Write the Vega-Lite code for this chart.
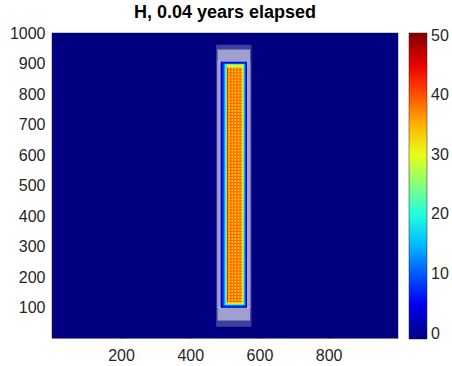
{
  "$schema": "https://vega.github.io/schema/vega-lite/v6.json",
  "width": 346,
  "height": 305,
  "autosize": {"type": "none"},
  "padding": {"left": 52, "top": 33, "right": 54, "bottom": 28},
  "background": "white",
  "title": {"text": "H, 0.04 years elapsed", "fontSize": 18, "font": "Liberation Sans", "fontWeight": "bold", "color": "#000000", "anchor": "middle", "offset": 3},
  "datasets": {
    "bg": [{"x0": 0.5, "x1": 1000.5, "y0": 0.5, "y1": 1000.5, "v": -0.9}],
    "haloSparse": [{"x0": 475, "x1": 577, "y0": 37, "y1": 962}],
    "haloDense": [
      {"x0": 479, "x1": 573, "y0": 905, "y1": 946},
      {"x0": 479, "x1": 573, "y0": 58, "y1": 102},
      {"x0": 478, "x1": 489, "y0": 100, "y1": 906},
      {"x0": 562, "x1": 574, "y0": 100, "y1": 906}
    ],
    "bar": [
      {"x0": 488, "x1": 564, "y0": 100, "y1": 906, "v": 2},
      {"x0": 493, "x1": 561, "y0": 104, "y1": 903, "v": 9},
      {"x0": 499, "x1": 557, "y0": 108, "y1": 899, "v": 18},
      {"x0": 503, "x1": 555, "y0": 111, "y1": 897, "v": 27},
      {"x0": 506, "x1": 553, "y0": 113, "y1": 895, "v": 39},
      {"x0": 506, "x1": 510, "y0": 113, "y1": 895, "v": 42},
      {"x0": 510, "x1": 515, "y0": 113, "y1": 895, "v": 33},
      {"x0": 519, "x1": 524, "y0": 113, "y1": 895, "v": 33},
      {"x0": 528, "x1": 533, "y0": 113, "y1": 895, "v": 33},
      {"x0": 537, "x1": 542, "y0": 113, "y1": 895, "v": 33},
      {"x0": 546, "x1": 550, "y0": 113, "y1": 895, "v": 33},
      {"x0": 550, "x1": 553, "y0": 113, "y1": 895, "v": 28},
      {"x0": 510, "x1": 550, "y0": 118, "y1": 122, "v": 39},
      {"x0": 510, "x1": 550, "y0": 128, "y1": 132, "v": 39},
      {"x0": 510, "x1": 550, "y0": 138, "y1": 142, "v": 39},
      {"x0": 510, "x1": 550, "y0": 148, "y1": 152, "v": 39},
      {"x0": 510, "x1": 550, "y0": 158, "y1": 162, "v": 39},
      {"x0": 510, "x1": 550, "y0": 168, "y1": 172, "v": 39},
      {"x0": 510, "x1": 550, "y0": 178, "y1": 182, "v": 39},
      {"x0": 510, "x1": 550, "y0": 188, "y1": 192, "v": 39},
      {"x0": 510, "x1": 550, "y0": 198, "y1": 202, "v": 39},
      {"x0": 510, "x1": 550, "y0": 208, "y1": 212, "v": 39},
      {"x0": 510, "x1": 550, "y0": 218, "y1": 222, "v": 39},
      {"x0": 510, "x1": 550, "y0": 228, "y1": 232, "v": 39},
      {"x0": 510, "x1": 550, "y0": 238, "y1": 242, "v": 39},
      {"x0": 510, "x1": 550, "y0": 248, "y1": 252, "v": 39},
      {"x0": 510, "x1": 550, "y0": 258, "y1": 262, "v": 39},
      {"x0": 510, "x1": 550, "y0": 268, "y1": 272, "v": 39},
      {"x0": 510, "x1": 550, "y0": 278, "y1": 282, "v": 39},
      {"x0": 510, "x1": 550, "y0": 288, "y1": 292, "v": 39},
      {"x0": 510, "x1": 550, "y0": 298, "y1": 302, "v": 39},
      {"x0": 510, "x1": 550, "y0": 308, "y1": 312, "v": 39},
      {"x0": 510, "x1": 550, "y0": 318, "y1": 322, "v": 39},
      {"x0": 510, "x1": 550, "y0": 328, "y1": 332, "v": 39},
      {"x0": 510, "x1": 550, "y0": 338, "y1": 342, "v": 39},
      {"x0": 510, "x1": 550, "y0": 348, "y1": 352, "v": 39},
      {"x0": 510, "x1": 550, "y0": 358, "y1": 362, "v": 39},
      {"x0": 510, "x1": 550, "y0": 368, "y1": 372, "v": 39},
      {"x0": 510, "x1": 550, "y0": 378, "y1": 382, "v": 39},
      {"x0": 510, "x1": 550, "y0": 388, "y1": 392, "v": 39},
      {"x0": 510, "x1": 550, "y0": 398, "y1": 402, "v": 39},
      {"x0": 510, "x1": 550, "y0": 408, "y1": 412, "v": 39},
      {"x0": 510, "x1": 550, "y0": 418, "y1": 422, "v": 39},
      {"x0": 510, "x1": 550, "y0": 428, "y1": 432, "v": 39},
      {"x0": 510, "x1": 550, "y0": 438, "y1": 442, "v": 39},
      {"x0": 510, "x1": 550, "y0": 448, "y1": 452, "v": 39},
      {"x0": 510, "x1": 550, "y0": 458, "y1": 462, "v": 39},
      {"x0": 510, "x1": 550, "y0": 468, "y1": 472, "v": 39},
      {"x0": 510, "x1": 550, "y0": 478, "y1": 482, "v": 39},
      {"x0": 510, "x1": 550, "y0": 488, "y1": 492, "v": 39},
      {"x0": 510, "x1": 550, "y0": 498, "y1": 502, "v": 39},
      {"x0": 510, "x1": 550, "y0": 508, "y1": 512, "v": 39},
      {"x0": 510, "x1": 550, "y0": 518, "y1": 522, "v": 39},
      {"x0": 510, "x1": 550, "y0": 528, "y1": 532, "v": 39},
      {"x0": 510, "x1": 550, "y0": 538, "y1": 542, "v": 39},
      {"x0": 510, "x1": 550, "y0": 548, "y1": 552, "v": 39},
      {"x0": 510, "x1": 550, "y0": 558, "y1": 562, "v": 39},
      {"x0": 510, "x1": 550, "y0": 568, "y1": 572, "v": 39},
      {"x0": 510, "x1": 550, "y0": 578, "y1": 582, "v": 39},
      {"x0": 510, "x1": 550, "y0": 588, "y1": 592, "v": 39},
      {"x0": 510, "x1": 550, "y0": 598, "y1": 602, "v": 39},
      {"x0": 510, "x1": 550, "y0": 608, "y1": 612, "v": 39},
      {"x0": 510, "x1": 550, "y0": 618, "y1": 622, "v": 39},
      {"x0": 510, "x1": 550, "y0": 628, "y1": 632, "v": 39},
      {"x0": 510, "x1": 550, "y0": 638, "y1": 642, "v": 39},
      {"x0": 510, "x1": 550, "y0": 648, "y1": 652, "v": 39},
      {"x0": 510, "x1": 550, "y0": 658, "y1": 662, "v": 39},
      {"x0": 510, "x1": 550, "y0": 668, "y1": 672, "v": 39},
      {"x0": 510, "x1": 550, "y0": 678, "y1": 682, "v": 39},
      {"x0": 510, "x1": 550, "y0": 688, "y1": 692, "v": 39},
      {"x0": 510, "x1": 550, "y0": 698, "y1": 702, "v": 39},
      {"x0": 510, "x1": 550, "y0": 708, "y1": 712, "v": 39},
      {"x0": 510, "x1": 550, "y0": 718, "y1": 722, "v": 39},
      {"x0": 510, "x1": 550, "y0": 728, "y1": 732, "v": 39},
      {"x0": 510, "x1": 550, "y0": 738, "y1": 742, "v": 39},
      {"x0": 510, "x1": 550, "y0": 748, "y1": 752, "v": 39},
      {"x0": 510, "x1": 550, "y0": 758, "y1": 762, "v": 39},
      {"x0": 510, "x1": 550, "y0": 768, "y1": 772, "v": 39},
      {"x0": 510, "x1": 550, "y0": 778, "y1": 782, "v": 39},
      {"x0": 510, "x1": 550, "y0": 788, "y1": 792, "v": 39},
      {"x0": 510, "x1": 550, "y0": 798, "y1": 802, "v": 39},
      {"x0": 510, "x1": 550, "y0": 808, "y1": 812, "v": 39},
      {"x0": 510, "x1": 550, "y0": 818, "y1": 822, "v": 39},
      {"x0": 510, "x1": 550, "y0": 828, "y1": 832, "v": 39},
      {"x0": 510, "x1": 550, "y0": 838, "y1": 842, "v": 39},
      {"x0": 510, "x1": 550, "y0": 848, "y1": 852, "v": 39},
      {"x0": 510, "x1": 550, "y0": 858, "y1": 862, "v": 39},
      {"x0": 510, "x1": 550, "y0": 868, "y1": 872, "v": 39},
      {"x0": 510, "x1": 550, "y0": 878, "y1": 882, "v": 39},
      {"x0": 506, "x1": 553, "y0": 888, "y1": 895, "v": 30},
      {"x0": 506, "x1": 553, "y0": 113, "y1": 117, "v": 31}
    ]
  },
  "encoding": {
    "x": {"field": "x0", "type": "quantitative", "scale": {"domain": [0.5, 1000.5], "nice": false, "zero": false},
          "axis": {"values": [200, 400, 600, 800], "format": "d", "title": null, "grid": false, "labelFontSize": 16, "labelFont": "Liberation Sans", "labelColor": "#262626", "tickSize": -4, "tickColor": "#262626", "domainColor": "#262626", "domainWidth": 0.5, "labelPadding": 13}},
    "x2": {"field": "x1"},
    "y": {"field": "y0", "type": "quantitative", "scale": {"domain": [0.5, 1000.5], "nice": false, "zero": false},
          "axis": {"values": [100, 200, 300, 400, 500, 600, 700, 800, 900, 1000], "format": "d", "title": null, "grid": false, "labelFontSize": 16, "labelFont": "Liberation Sans", "labelColor": "#262626", "tickSize": -4, "tickColor": "#262626", "domainColor": "#262626", "domainWidth": 0.5, "labelPadding": 11}},
    "y2": {"field": "y1"}
  },
  "layer": [
    {
      "data": {"name": "bg"},
      "mark": {"type": "rect"},
      "encoding": {
        "color": {"field": "v", "type": "quantitative",
          "scale": {"domain": [-0.9, 5.52, 18.36, 31.19, 44.03, 50.45], "range": ["#000080", "#0000ff", "#00ffff", "#ffff00", "#ff0000", "#800000"], "interpolate": "rgb"},
          "legend": {"title": null, "direction": "vertical", "orient": "right", "offset": 11, "gradientLength": 306, "gradientThickness": 18, "values": [0, 10, 20, 30, 40, 50], "labelFontSize": 16, "labelFont": "Liberation Sans", "labelColor": "#262626", "labelOffset": 4, "gradientStrokeColor": "#262626", "gradientStrokeWidth": 0.5}}
      }
    },
    {
      "data": {"name": "haloSparse"},
      "mark": {"type": "rect", "color": "#ffffff", "opacity": 0.25}
    },
    {
      "data": {"name": "haloDense"},
      "mark": {"type": "rect", "color": "#ffffff", "opacity": 0.5}
    },
    {
      "data": {"name": "bar"},
      "mark": {"type": "rect"},
      "encoding": {"color": {"field": "v", "type": "quantitative"}}
    }
  ],
  "config": {"view": {"stroke": "#262626", "strokeWidth": 0.5}}
}
